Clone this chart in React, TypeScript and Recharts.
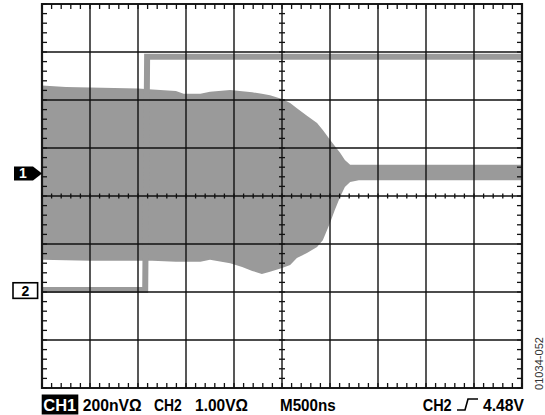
import { ComposedChart, Area, Line, Scatter, XAxis, YAxis, CartesianGrid, ReferenceDot, ReferenceArea } from "recharts"

// time in divisions (500ns/div), amplitude in divisions
const ch1Time = [0, 0.5, 1.0, 1.5, 2.0, 2.3, 2.79, 2.95, 3.3, 3.5, 3.92, 4.17, 4.38, 4.58, 4.75, 5.0, 5.17, 5.31, 5.52, 5.73, 5.85, 6.0, 6.1, 6.21, 6.31, 6.42, 6.6, 8, 10]
const ch1High = [2.3, 2.27, 2.26, 2.25, 2.24, 2.22, 2.19, 2.13, 2.13, 2.17, 2.21, 2.18, 2.16, 2.13, 2.1, 2.02, 1.94, 1.83, 1.67, 1.52, 1.375, 1.17, 1.04, 0.9, 0.75, 0.65, 0.65, 0.65, 0.65]
const ch1Low = [-1.33, -1.34, -1.35, -1.35, -1.35, -1.35, -1.37, -1.37, -1.37, -1.33, -1.4, -1.48, -1.56, -1.625, -1.58, -1.5, -1.44, -1.29, -1.19, -1.06, -0.92, -0.56, -0.29, -0.02, 0.19, 0.29, 0.33, 0.33, 0.33]

const ch2Time = [0, 2.15, 2.19, 10]
const ch2Level = [-1.96, -1.96, 2.9, 2.9]

const ch1Ground = 0.47
const ch2Ground = -1.97

const majorX = [0, 1, 2, 3, 4, 5, 6, 7, 8, 9, 10]
const majorY = [-4, -3, -2, -1, 0, 1, 2, 3, 4]
const minorX = Array.from({ length: 51 }, (_, i) => Math.round(i * 2) / 10)
const minorY = Array.from({ length: 41 }, (_, i) => Math.round(i * 2 - 40) / 10)

const ch1Rows = ch1Time.map((t, i) => ({ t, band: [ch1Low[i], ch1High[i]] }))
const ch2Rows = ch2Time.map((t, i) => ({ t, v: ch2Level[i] }))

// graticule minor ticks: centre cross and the four edges
const centerH = minorX.map((x) => ({ x, y: 0 }))
const centerV = minorY.map((y) => ({ x: 5, y }))
const edgeTop = minorX.map((x) => ({ x, y: 4 }))
const edgeBottom = minorX.map((x) => ({ x, y: -4 }))
const edgeLeft = minorY.map((y) => ({ x: 0, y }))
const edgeRight = minorY.map((y) => ({ x: 10, y }))

const W = 545
const H = 415
const M = { top: 4, right: 23, bottom: 27, left: 42 }
const TRACE = "#9a9a9a"
const INK = "#111"
const FONT = "'Liberation Sans', Arial, sans-serif"

const tick = (dx1: number, dy1: number, dx2: number, dy2: number) => (p: any) => (
  <line x1={p.cx + dx1} y1={p.cy + dy1} x2={p.cx + dx2} y2={p.cy + dy2} stroke={INK} strokeWidth={1.3} />
)

const Marker1 = (p: any) => {
  const { cx, cy } = p
  return (
    <g>
      <polygon
        points={`${cx - 28},${cy - 7} ${cx - 9},${cy - 7} ${cx},${cy} ${cx - 9},${cy + 7} ${cx - 28},${cy + 7}`}
        fill="#000"
      />
      <text x={cx - 19} y={cy + 5} fill="#fff" fontFamily={FONT} fontWeight="bold" fontSize={14} textAnchor="middle">1</text>
    </g>
  )
}

const Marker2 = (p: any) => {
  const { cx, cy } = p
  return (
    <g>
      <rect x={cx - 29} y={cy - 7.8} width={24.6} height={15.6} fill="#fff" stroke="#000" strokeWidth={1.6} />
      <text x={cx - 16.7} y={cy + 5} fill="#000" fontFamily={FONT} fontWeight="bold" fontSize={14} textAnchor="middle">2</text>
    </g>
  )
}

export default function App() {
  return (
    <div style={{ position: "absolute", left: 0, top: 0, width: W, height: H, background: "#fff" }}>
      <div style={{ position: "absolute", left: 0, top: 0 }}>
        <ComposedChart width={W} height={H} margin={M} data={ch1Rows}>
          <XAxis type="number" dataKey="t" domain={[0, 10]} hide allowDataOverflow />
          <YAxis type="number" domain={[-4, 4]} hide allowDataOverflow />
          <Area type="linear" dataKey="band" stroke="none" fill={TRACE} fillOpacity={1} isAnimationActive={false} />
          <Line data={ch2Rows} type="linear" dataKey="v" stroke={TRACE} strokeWidth={6} dot={false} isAnimationActive={false} />
        </ComposedChart>
      </div>
      <div style={{ position: "absolute", left: 0, top: 0 }}>
        <ComposedChart width={W} height={H} margin={M}>
          <XAxis type="number" dataKey="x" domain={[0, 10]} ticks={majorX} hide />
          <YAxis type="number" dataKey="y" domain={[-4, 4]} ticks={majorY} hide />
          <CartesianGrid stroke={INK} strokeWidth={1.4} />
          <ReferenceArea x1={0} x2={10} y1={-4} y2={4} fill="none" fillOpacity={0} stroke="#1a1a1a" strokeWidth={2.2} />
          <Scatter data={centerH} shape={tick(0, -2.5, 0, 2.5)} isAnimationActive={false} />
          <Scatter data={centerV} shape={tick(-3, 0, 3, 0)} isAnimationActive={false} />
          <Scatter data={edgeTop} shape={tick(0, 0, 0, 5)} isAnimationActive={false} />
          <Scatter data={edgeBottom} shape={tick(0, -5, 0, 0)} isAnimationActive={false} />
          <Scatter data={edgeLeft} shape={tick(0, 0, 5, 0)} isAnimationActive={false} />
          <Scatter data={edgeRight} shape={tick(-5, 0, 0, 0)} isAnimationActive={false} />
          <ReferenceDot x={0} y={ch1Ground} shape={Marker1} ifOverflow="visible" />
          <ReferenceDot x={0} y={ch2Ground} shape={Marker2} ifOverflow="visible" />
        </ComposedChart>
      </div>
      <svg width={W} height={H} style={{ position: "absolute", left: 0, top: 0, pointerEvents: "none" }}>
        <g fontFamily={FONT} fontWeight="bold" fontSize={17} fill="#000">
          <rect x={41.7} y={394.5} width={36.6} height={20} fill="#000" />
          <text x={43.3} y={411} fill="#fff" textLength={33} lengthAdjust="spacingAndGlyphs">CH1</text>
          <text x={82.7} y={411} textLength={59} lengthAdjust="spacingAndGlyphs">200nVΩ</text>
          <text x={154} y={411} textLength={27.7} lengthAdjust="spacingAndGlyphs">CH2</text>
          <text x={195} y={411} textLength={53} lengthAdjust="spacingAndGlyphs">1.00VΩ</text>
          <text x={280} y={411} textLength={55.7} lengthAdjust="spacingAndGlyphs">M500ns</text>
          <text x={422.7} y={411} textLength={29} lengthAdjust="spacingAndGlyphs">CH2</text>
          <text x={483} y={411} textLength={41} lengthAdjust="spacingAndGlyphs">4.48V</text>
        </g>
        <polyline points="457,410 465,410 468,399 478,399" fill="none" stroke="#000" strokeWidth={1.6} />
        <text
          transform="translate(542.5,363.5) rotate(-90)"
          fontFamily={FONT}
          fontSize={11.5}
          fill="#333"
          textAnchor="middle"
          textLength={53}
          lengthAdjust="spacingAndGlyphs"
        >
          01034-052
        </text>
      </svg>
    </div>
  )
}
